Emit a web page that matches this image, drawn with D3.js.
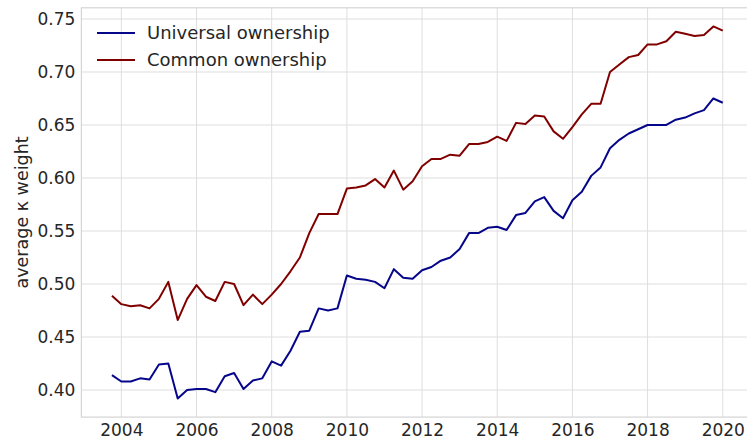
<!DOCTYPE html>
<head>
  <meta charset="utf-8">
  <title>Ownership weights</title>
  <script src="https://d3js.org/d3.v7.min.js"></script>
  <style>
    body { margin: 0; background: #fff; overflow: hidden; }
    text {
      font-family: "DejaVu Sans", sans-serif;
      fill: #262626;
    }
    .grid line { stroke: #dedede; stroke-width: 1; }
    .series { fill: none; stroke-width: 2; stroke-linejoin: round; }
  </style>
</head>

<body>
  <script>
    // quarterly observations, first one at 2003 Q4
    var startYear = 2003.75;

    var universal = [
      0.414, 0.408, 0.408, 0.411, 0.410, 0.424, 0.425, 0.392, 0.400, 0.401,
      0.401, 0.398, 0.413, 0.416, 0.401, 0.409, 0.411, 0.427, 0.423, 0.437,
      0.455, 0.456, 0.477, 0.475, 0.477, 0.508, 0.505, 0.504, 0.502, 0.496,
      0.514, 0.506, 0.505, 0.513, 0.516, 0.522, 0.525, 0.533, 0.548, 0.548,
      0.553, 0.554, 0.551, 0.565, 0.567, 0.578, 0.582, 0.569, 0.562, 0.579,
      0.587, 0.602, 0.610, 0.628, 0.636, 0.642, 0.646, 0.650, 0.650, 0.650,
      0.655, 0.657, 0.661, 0.664, 0.675, 0.671
    ];

    var common = [
      0.489, 0.481, 0.479, 0.480, 0.477, 0.486, 0.502, 0.466, 0.486, 0.499,
      0.488, 0.484, 0.502, 0.500, 0.480, 0.490, 0.481, 0.490, 0.500, 0.512,
      0.525, 0.548, 0.566, 0.566, 0.566, 0.590, 0.591, 0.593, 0.599, 0.591,
      0.607, 0.589, 0.597, 0.611, 0.618, 0.618, 0.622, 0.621, 0.632, 0.632,
      0.634, 0.639, 0.635, 0.652, 0.651, 0.659, 0.658, 0.644, 0.637, 0.648,
      0.660, 0.670, 0.670, 0.700, 0.707, 0.714, 0.716, 0.726, 0.726, 0.729,
      0.738, 0.736, 0.734, 0.735, 0.743, 0.739
    ];

    var seriesNames = ["Universal ownership", "Common ownership"];
    var seriesColors = ["#06068a", "#800000"];
    var xTicks = [2004, 2006, 2008, 2010, 2012, 2014, 2016, 2018, 2020];
    var yTicks = [0.40, 0.45, 0.50, 0.55, 0.60, 0.65, 0.70, 0.75];

    var width = 747,
        height = 439,
        plotLeft = 81.4,
        plotTop = 7.8,
        plotBottom = 417.1,
        plotRight = 753.3;

    var years = universal.map(function (d, i) { return startYear + i / 4; });
    var all = universal.concat(common);

    // matplotlib style 5% margins around the data
    var xPad = (d3.max(years) - d3.min(years)) * 0.05,
        yPad = (d3.max(all) - d3.min(all)) * 0.05;

    var x = d3.scaleLinear()
      .domain([d3.min(years) - xPad, d3.max(years) + xPad])
      .range([plotLeft, plotRight]);
    var y = d3.scaleLinear()
      .domain([d3.min(all) - yPad, d3.max(all) + yPad])
      .range([plotBottom, plotTop]);

    var svg = d3.select("body").append("svg")
      .attr("width", width)
      .attr("height", height)
      .style("display", "block");

    var grid = svg.append("g").attr("class", "grid");
    grid.selectAll(".gx")
        .data(xTicks)
      .enter().append("line")
        .attr("x1", function (d) { return x(d); })
        .attr("x2", function (d) { return x(d); })
        .attr("y1", plotTop)
        .attr("y2", plotBottom);
    grid.selectAll(".gy")
        .data(yTicks)
      .enter().append("line")
        .attr("x1", plotLeft)
        .attr("x2", plotRight)
        .attr("y1", function (d) { return y(d); })
        .attr("y2", function (d) { return y(d); });

    // frame
    svg.append("rect")
      .attr("x", plotLeft)
      .attr("y", plotTop)
      .attr("width", plotRight - plotLeft)
      .attr("height", plotBottom - plotTop)
      .style("fill", "none")
      .style("stroke", "#d4d4d4")
      .style("stroke-width", 1.2);

    var xAxis = svg.append("g")
      .attr("transform", "translate(0," + plotBottom + ")")
      .call(d3.axisBottom(x).tickValues(xTicks).tickFormat(d3.format("d"))
        .tickSize(0).tickPadding(7));
    var yAxis = svg.append("g")
      .attr("transform", "translate(" + plotLeft + ",0)")
      .call(d3.axisLeft(y).tickValues(yTicks).tickFormat(d3.format(".2f"))
        .tickSize(0).tickPadding(6));
    [xAxis, yAxis].forEach(function (a) {
      a.select(".domain").remove();
      a.selectAll("text")
        .style("font-size", "17px")
        .style("font-family", "DejaVu Sans, sans-serif")
        .attr("fill", "#262626");
    });

    svg.append("text")
      .attr("transform", "translate(28," + (plotTop + plotBottom) / 2 + ") rotate(-90)")
      .attr("text-anchor", "middle")
      .style("font-size", "17.5px")
      .text("average \u03ba weight");

    var line = d3.line()
      .x(function (d, i) { return x(years[i]); })
      .y(function (d) { return y(d); });

    svg.selectAll(".series")
        .data([universal, common])
      .enter().append("path")
        .attr("class", "series")
        .attr("d", line)
        .style("stroke", function (d, i) { return seriesColors[i]; });

    var legend = svg.selectAll(".legend")
        .data(seriesNames)
      .enter().append("g")
        .attr("transform", function (d, i) {
          return "translate(97," + (33 + i * 27) + ")";
        });
    legend.append("line")
      .attr("x2", 38)
      .style("stroke", function (d, i) { return seriesColors[i]; })
      .style("stroke-width", 2);
    legend.append("text")
      .attr("x", 50)
      .attr("dy", "0.35em")
      .style("font-size", "18px")
      .text(function (d) { return d; });
  </script>
</body>
